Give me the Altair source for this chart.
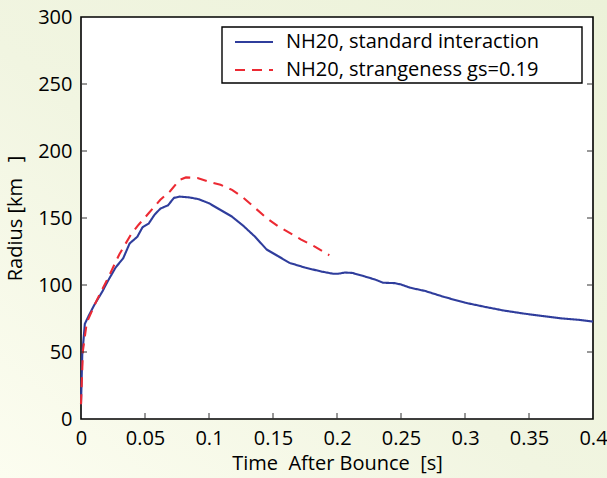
import altair as alt
import pandas as pd

# Shock radius versus time after bounce, two equations of state
series_names = ["NH20, standard interaction", "NH20, strangeness gs=0.19"]
series_colors = ["#2f3d9c", "#ec2a33"]
series_dashes = [[1, 0], [10, 7]]

time_std = [0.0, 0.001, 0.003, 0.006, 0.0106, 0.0166, 0.021, 0.027, 0.033, 0.038,
            0.044, 0.048, 0.053, 0.0575, 0.062, 0.068, 0.0726, 0.077, 0.085, 0.092,
            0.1, 0.109, 0.118, 0.127, 0.136, 0.145, 0.154, 0.163, 0.175, 0.188,
            0.197, 0.201, 0.206, 0.212, 0.221, 0.23, 0.236, 0.245, 0.25, 0.257,
            0.269, 0.284, 0.3, 0.315, 0.33, 0.345, 0.36, 0.375, 0.39, 0.4]
radius_std = [11, 48, 71, 77, 85.5, 95, 103, 113, 120, 131,
              136, 143, 146, 152.5, 157, 159.5, 165, 166, 165.3, 164,
              161, 156, 151, 144, 136, 126.5, 121.5, 116.5, 113, 110,
              108.4, 108.4, 109.3, 109, 106.6, 104, 101.7, 101.4, 100.4, 98,
              95.5, 91, 86.8, 83.8, 81, 78.8, 76.9, 75.1, 73.9, 72.7]

time_gs = [0.0, 0.0015, 0.0045, 0.012, 0.021, 0.030, 0.039, 0.045, 0.053, 0.062,
           0.0696, 0.077, 0.082, 0.091, 0.1, 0.109, 0.118, 0.127, 0.136, 0.145,
           0.154, 0.163, 0.172, 0.182, 0.194]
radius_gs = [11, 51, 72, 88, 105, 123, 137.6, 145, 153.7, 163.6,
             170, 178.5, 180.3, 179.8, 177, 174.8, 171, 165, 157.5, 150,
             143.8, 138.9, 133.9, 129, 122.2]

x_ticks = [0, 0.05, 0.1, 0.15, 0.2, 0.25, 0.3, 0.35, 0.4]
y_ticks = [0, 50, 100, 150, 200, 250, 300]

W, H = 512, 402
PAD = {"left": 81, "top": 17, "right": 14, "bottom": 59}
FONT = "Open Sans"

curves = pd.concat([
    pd.DataFrame({"t": time_std, "r": radius_std, "series": series_names[0], "order": range(len(time_std))}),
    pd.DataFrame({"t": time_gs, "r": radius_gs, "series": series_names[1], "order": range(len(time_gs))}),
])

x_scale = alt.Scale(domain=[0, 0.4], nice=False, zero=False)
y_scale = alt.Scale(domain=[0, 300], nice=False)

one_row = alt.Data(values=[{"k": 1}])

# page backdrop with a soft green gradient
backdrop = alt.Chart(one_row).mark_rect(
    color={
        "gradient": "linear",
        "x1": 0, "y1": 1, "x2": 1, "y2": 0,
        "stops": [
            {"offset": 0.0, "color": "#fcfdf0"},
            {"offset": 0.45, "color": "#f1f5e1"},
            {"offset": 1.0, "color": "#ecf2d9"},
        ],
    }
).encode(
    x=alt.value(-PAD["left"]), x2=alt.value(W + PAD["right"]),
    y=alt.value(-PAD["top"]), y2=alt.value(H + PAD["bottom"]),
)

# white plotting box with a black frame
frame = alt.Chart(one_row).mark_rect(
    fill="white", stroke="black", strokeWidth=1.6
).encode(x=alt.value(0), x2=alt.value(W), y=alt.value(0), y2=alt.value(H))

x_axis = alt.Axis(values=x_ticks, title="Time\u00a0 After Bounce\u00a0 [s]", zindex=2,
                  labelFlush=False, labelOverlap=False,
                  labelExpr="datum.value == 0 ? '0' : format(datum.value, '.2~f')")
y_axis = alt.Axis(values=y_ticks, title="Radius [km\u00a0\u00a0 ]", zindex=2,
                  labelFlush=False, labelOverlap=False)

lines = alt.Chart(curves).mark_line(strokeWidth=2.1).encode(
    x=alt.X("t:Q", scale=x_scale, axis=x_axis),
    y=alt.Y("r:Q", scale=y_scale, axis=y_axis),
    color=alt.Color("series:N", scale=alt.Scale(domain=series_names, range=series_colors),
                    legend=None),
    strokeDash=alt.StrokeDash("series:N",
                              scale=alt.Scale(domain=series_names, range=series_dashes),
                              legend=None),
    order="order:Q",
)

# inward tick marks on bottom, left and right edges
xt = pd.DataFrame({"v": x_ticks[1:-1]})
yt = pd.DataFrame({"v": y_ticks[1:-1]})
tick_style = dict(color="#333333", strokeWidth=1)
ticks_bottom = alt.Chart(xt).mark_rule(**tick_style).encode(
    x=alt.X("v:Q", scale=x_scale), y=alt.value(H), y2=alt.value(H - 6))
ticks_left = alt.Chart(yt).mark_rule(**tick_style).encode(
    y=alt.Y("v:Q", scale=y_scale), x=alt.value(0), x2=alt.value(6))
ticks_right = alt.Chart(yt).mark_rule(**tick_style).encode(
    y=alt.Y("v:Q", scale=y_scale), x=alt.value(W), x2=alt.value(W - 6))

# legend box in the upper right of the plot
LX0, LX1, LY0, LY1 = 141, 501, 10, 66
row_y = [25, 53]
legend_box = alt.Chart(one_row).mark_rect(
    fill="white", stroke="black", strokeWidth=1.4
).encode(x=alt.value(LX0), x2=alt.value(LX1), y=alt.value(LY0), y2=alt.value(LY1))

legend_layers = [legend_box]
for name, col, dash, yy in zip(series_names, series_colors, series_dashes, row_y):
    legend_layers.append(
        alt.Chart(one_row).mark_rule(color=col, strokeWidth=2.1, strokeDash=dash).encode(
            x=alt.value(154), x2=alt.value(192), y=alt.value(yy))
    )
    legend_layers.append(
        alt.Chart(one_row).mark_text(
            text=name, font=FONT, fontSize=20, color="black", align="left", baseline="middle"
        ).encode(x=alt.value(205), y=alt.value(yy))
    )

chart = alt.layer(backdrop, frame, lines, ticks_bottom, ticks_left, ticks_right,
                  *legend_layers).properties(
    width=W, height=H,
    autosize=alt.AutoSizeParams(type="none"),
    padding=PAD,
    background="#f1f5e1",
).configure_view(stroke=None).configure_axis(
    ticks=False, domain=False, grid=False,
    labelFont=FONT, labelFontSize=20, labelColor="black",
    titleFont=FONT, titleFontSize=20, titleColor="black", titleFontWeight="normal",
).configure_axisX(labelPadding=9, titlePadding=5).configure_axisY(
    labelPadding=9, titlePadding=12)

chart.save("out.html", embed_options={"renderer": "svg", "actions": False})
